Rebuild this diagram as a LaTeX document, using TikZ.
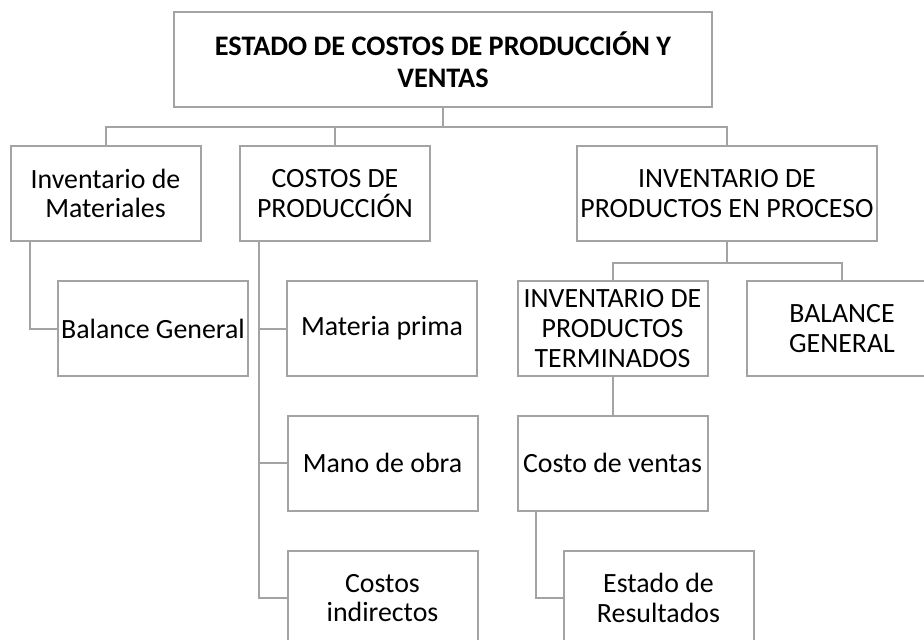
\documentclass[tikz,border=0pt]{standalone}
\usepackage{fontspec}
\setmainfont{Carlito}
\definecolor{linea}{RGB}{163,163,163}
\begin{document}
\begin{tikzpicture}[x=0.75pt,y=-0.75pt,
  caja/.style={draw=linea,line width=1.5pt,fill=white,align=center,inner sep=0pt,
    minimum width=142.5pt,minimum height=71.25pt,font=\fontsize{20.9}{22.3}\selectfont},
  conector/.style={draw=linea,line width=1.5pt}]
\clip (0,0) rectangle (924,639);
\node[caja,minimum width=403.5pt,font=\bfseries\fontsize{21.2}{23.6}\selectfont] (titulo) at (443,59.5) {ESTADO DE COSTOS DE PRODUCCIÓN Y\\VENTAS};
\node[caja] (invmat) at (105.5,193.5) {Inventario de\\Materiales};
\node[caja] (costos) at (335,193.5) {COSTOS DE\\PRODUCCIÓN};
\node[caja,minimum width=225pt] (invproc) at (727,193.5) {INVENTARIO DE\\PRODUCTOS EN PROCESO};
\node[caja] (balance) at (153,328.5) {Balance General};
\node[caja] (materia) at (382,328.5) {Materia prima};
\node[caja] (invterm) at (612.5,328.5) {INVENTARIO DE\\PRODUCTOS\\TERMINADOS};
\node[caja] (balgen) at (842,328.5) {BALANCE\\GENERAL};
\node[caja] (mano) at (382.5,463) {Mano de obra};
\node[caja] (ventas) at (612.5,463) {Costo de ventas};
\node[caja] (indirectos) at (382.5,598) {Costos\\indirectos};
\node[caja] (resultados) at (658.5,598) {Estado de\\Resultados};
\draw[conector] (titulo.south) -- ++(0,19) -| (invmat.north);
\draw[conector] (titulo.south) -- ++(0,19) -| (costos.north);
\draw[conector] (titulo.south) -- ++(0,19) -| (invproc.north);
\draw[conector] (invmat.south west) ++(20,0) |- (balance.west);
\draw[conector] (costos.south west) ++(20,0) |- (materia.west);
\draw[conector] (costos.south west) ++(20,0) |- (mano.west);
\draw[conector] (costos.south west) ++(20,0) |- (indirectos.west);
\draw[conector] (invproc.south) -- ++(0,21) -| (invterm.north);
\draw[conector] (invproc.south) -- ++(0,21) -| (balgen.north);
\draw[conector] (invterm.south) -- (ventas.north);
\draw[conector] (ventas.south west) ++(19,0) |- (resultados.west);
\end{tikzpicture}
\end{document}
